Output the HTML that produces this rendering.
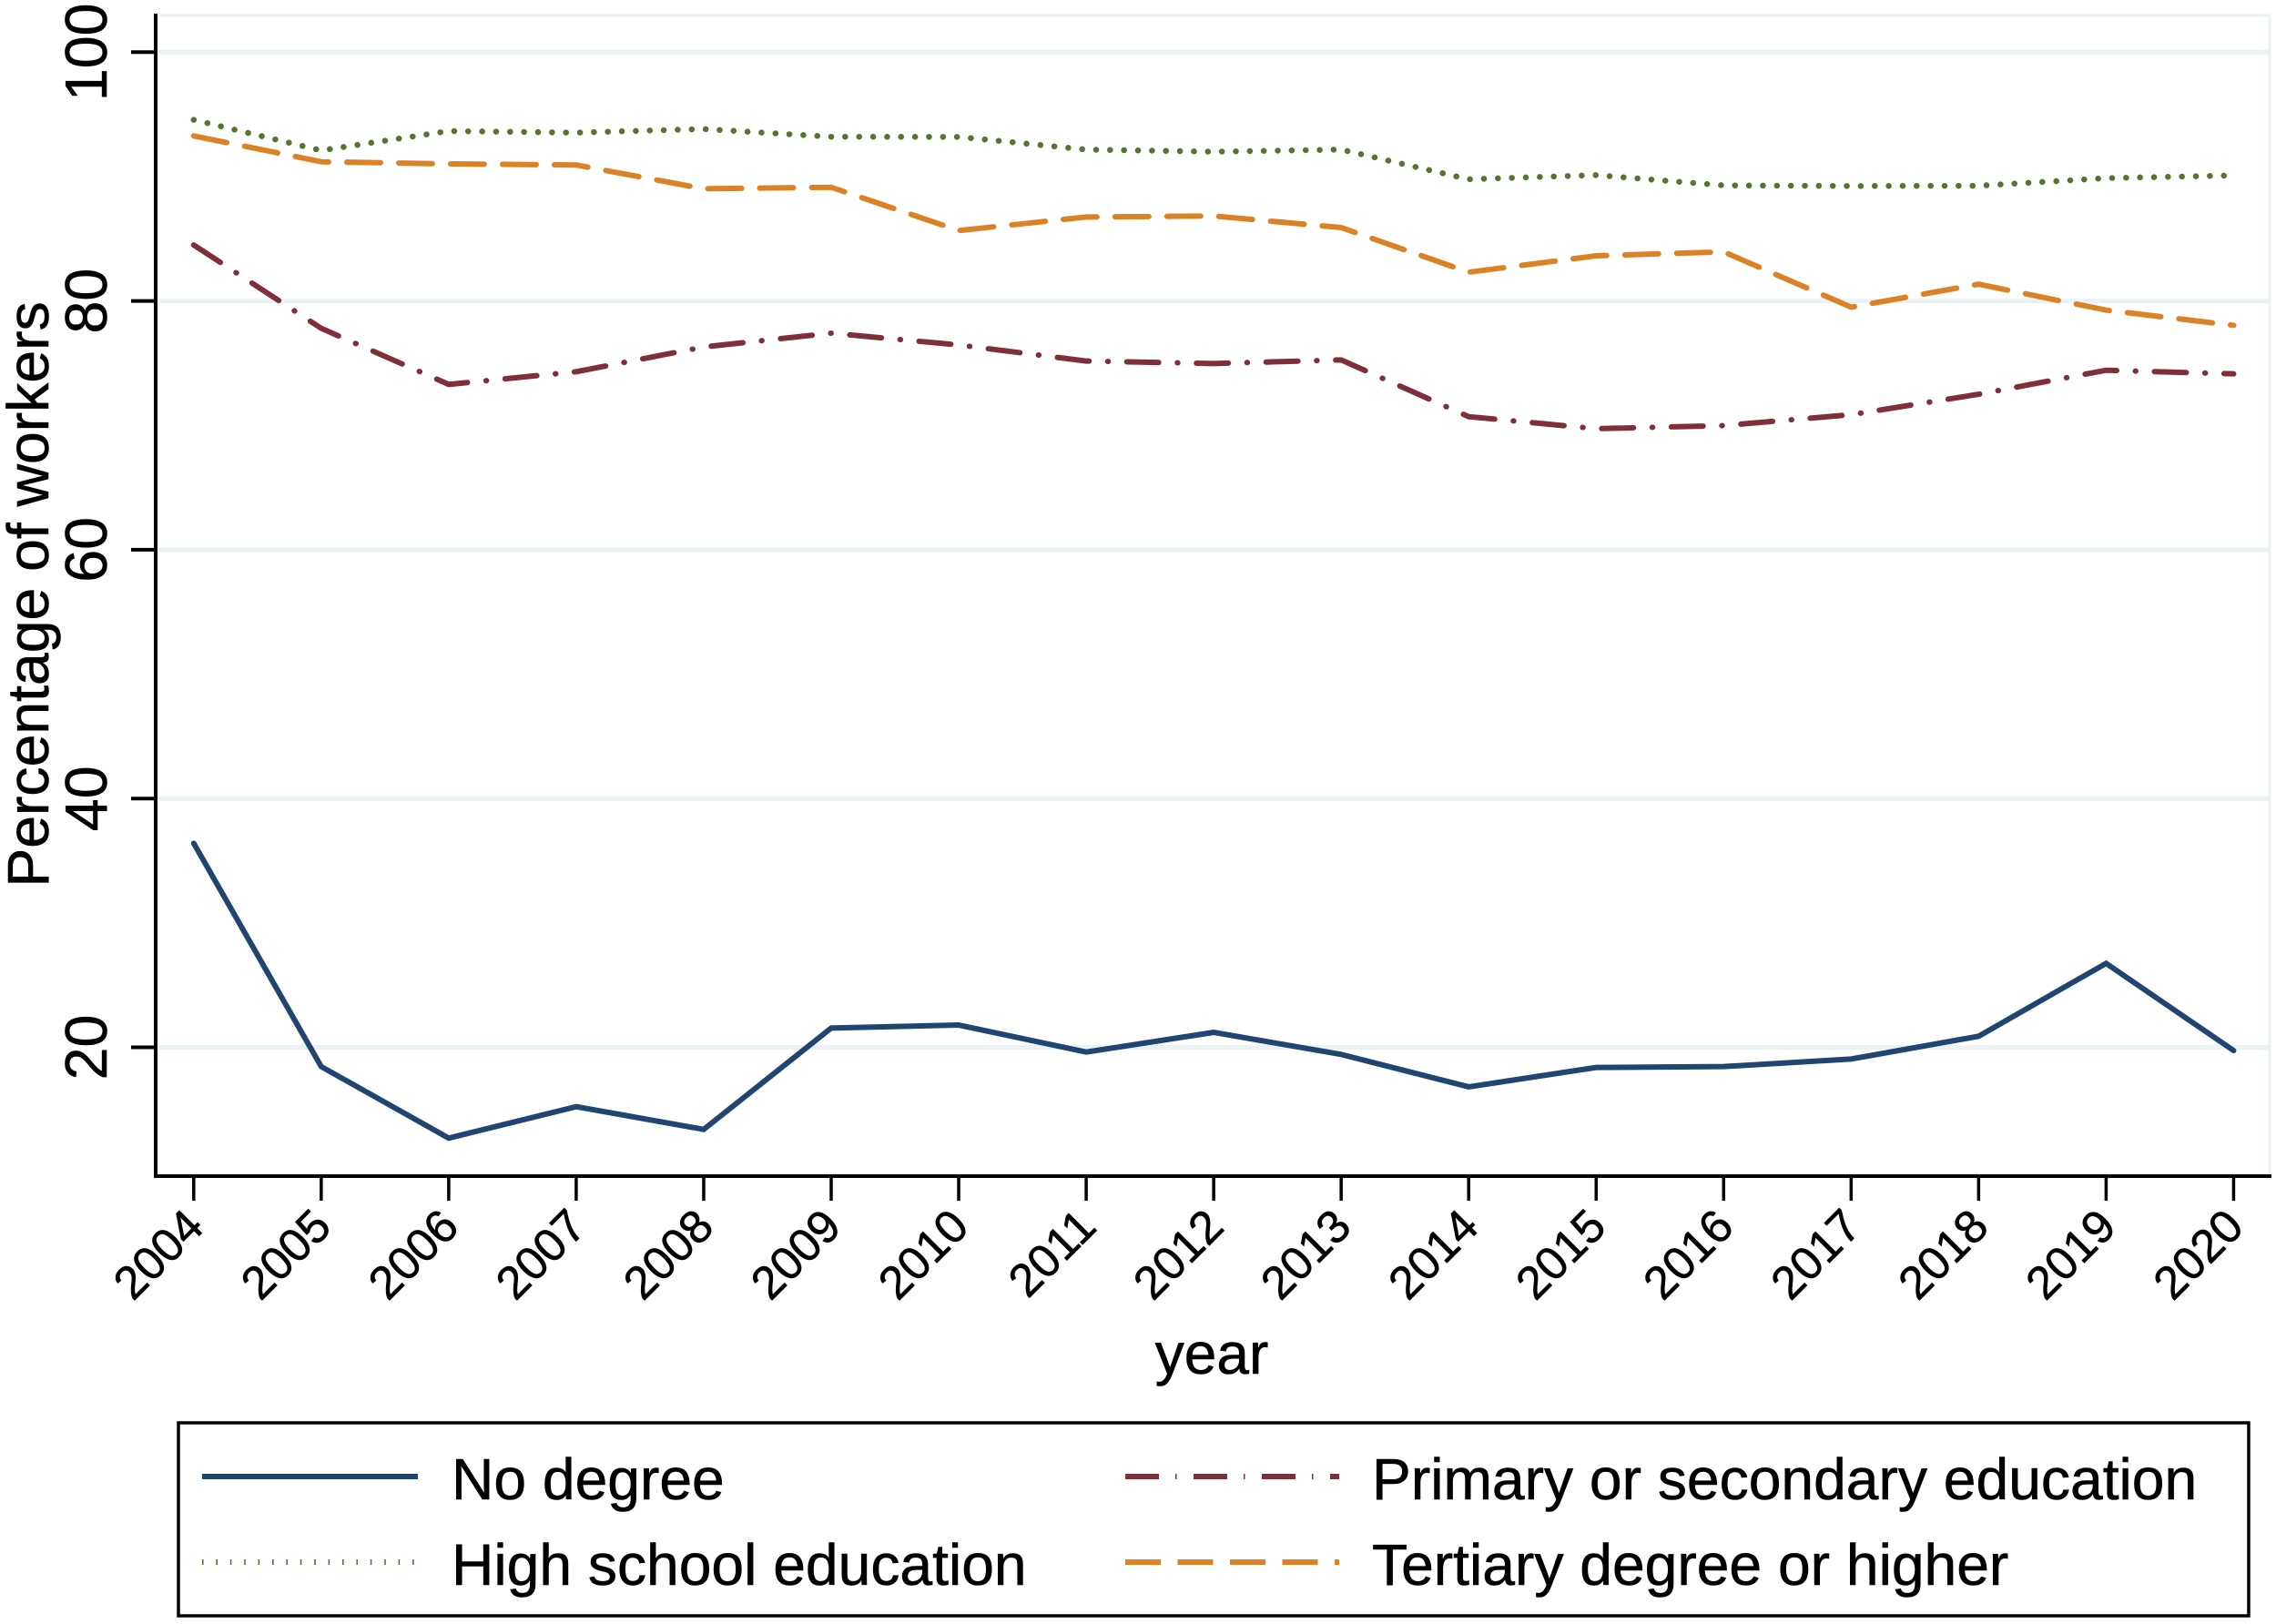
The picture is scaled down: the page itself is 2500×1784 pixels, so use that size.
<!DOCTYPE html>
<html lang="en">
<head>
<meta charset="utf-8">
<title>Percentage of workers by education</title>
<style>
html,body{margin:0;padding:0;background:#fff;width:2500px;height:1784px;overflow:hidden}
svg{display:block}
text{font-family:"Liberation Sans",Arial,sans-serif;fill:#000;stroke:#000;stroke-width:.6px}
</style>
</head>
<body>
<svg id="chart" xmlns="http://www.w3.org/2000/svg" width="2500" height="1784" viewBox="0 0 2500 1784">
  <rect x="0" y="0" width="2500" height="1784" fill="#ffffff"/>
  <g id="grid"></g>
  <g id="series"></g>
  <g id="axes"></g>
  <text font-size="64.3" text-anchor="middle" transform="translate(53 653) rotate(-90)">Percentage of workers</text>
  <text font-size="64" text-anchor="middle" x="1331" y="1509">year</text>
  <g>
    <rect x="196" y="1563" width="2274" height="212" fill="#ffffff" stroke="#000" stroke-width="3.5"/>
    <line x1="222" y1="1622" x2="459" y2="1622" stroke="#1f4570" stroke-width="6"/>
    <text font-size="64.2" x="496" y="1647">No degree</text>
    <line x1="222" y1="1716" x2="459" y2="1716" stroke="#55752f" stroke-width="6" stroke-dasharray="1.6 13.8"/>
    <text font-size="64.2" x="496" y="1741">High school education</text>
    <line x1="1236" y1="1622" x2="1471" y2="1622" stroke="#7f2f38" stroke-width="6" stroke-dasharray="37 18 1.5 18.5"/>
    <text font-size="64.2" x="1507" y="1647">Primary or secondary education</text>
    <line x1="1236" y1="1716" x2="1471" y2="1716" stroke="#dc8226" stroke-width="6" stroke-dasharray="39 18.5"/>
    <text font-size="64.2" x="1507" y="1741">Tertiary degree or higher</text>
  </g>
</svg>
<script>
const years = [2004,2005,2006,2007,2008,2009,2010,2011,2012,2013,2014,2015,2016,2017,2018,2019,2020];
const noDegree = [36.4,18.45,12.7,15.23,13.4,21.55,21.79,19.62,21.2,19.43,16.82,18.38,18.45,19.06,20.89,26.75,19.74];
const primarySecondary = [84.5,77.8,73.29,74.31,76.3,77.41,76.46,75.17,74.97,75.26,70.7,69.73,69.98,70.86,72.5,74.43,74.14];
const highSchool = [94.56,92.1,93.66,93.53,93.82,93.2,93.19,92.17,92.0,92.17,89.78,90.12,89.29,89.24,89.26,89.87,90.09];
const tertiary = [93.27,91.19,91.02,90.93,89.02,89.14,85.66,86.75,86.83,85.9,82.31,83.63,83.95,79.5,81.35,79.26,78.04];
const yTicks = [20,40,60,80,100];

const NS = 'http://www.w3.org/2000/svg';
function xScale(year){ return 212.8 + (year - 2004) * 140.04; }
function yScale(v){ return 57.3 + (100 - v) * 13.665; }
function make(parent, tag, attrs, txt){
  const el = document.createElementNS(NS, tag);
  for (const k in attrs) el.setAttribute(k, attrs[k]);
  if (txt !== undefined) el.textContent = txt;
  parent.appendChild(el);
  return el;
}

const grid = document.getElementById('grid');
const seriesG = document.getElementById('series');
const axes = document.getElementById('axes');

/* plot-region outline (pale) */
const plotTop = make(grid, 'line', {x1:175, y1:17, x2:2494, y2:17, stroke:'#eaf2f3', 'stroke-width':3});


const plotRight = make(grid, 'line', {x1:2493, y1:17, x2:2493, y2:1290, stroke:'#eaf2f3', 'stroke-width':3});



yTicks.forEach(function(t){
  const gl = make(grid, 'line', {x1:175, y1:yScale(t), x2:2493, y2:yScale(t), stroke:'#eaf2f3', 'stroke-width':5});
  
  
  const tk = make(axes, 'line', {x1:144, y1:yScale(t), x2:171, y2:yScale(t), stroke:'#000', 'stroke-width':4});
  
  
  const lb = make(axes, 'text', {'font-size':64.5, 'text-anchor':'middle', transform:'translate(117 ' + yScale(t) + ') rotate(-90)'}, String(t));
  
  
});

years.forEach(function(yr){
  const x = xScale(yr);
  const tk = make(axes, 'line', {x1:x, y1:1292, x2:x, y2:1319, stroke:'#000', 'stroke-width':3.5});
  
  
  const lb = make(axes, 'text', {'font-size':51, 'text-anchor':'end', transform:'translate(' + (x + 13.5) + ' 1350) rotate(-45)'}, String(yr));
  
  
});

const yAxisLine = make(axes, 'line', {x1:171, y1:15, x2:171, y2:1294, stroke:'#000', 'stroke-width':4});


const xAxisLine = make(axes, 'line', {x1:169, y1:1292, x2:2495, y2:1292, stroke:'#000', 'stroke-width':4});



function drawLine(values, name, color, width, dash, cap){
  const pts = values.map(function(v, i){ return xScale(years[i]).toFixed(2) + ',' + yScale(v).toFixed(2); }).join(' ');
  const attrs = {points:pts, fill:'none', stroke:color, 'stroke-width':width, 'stroke-linejoin':'miter', 'stroke-linecap':cap};
  if (dash) attrs['stroke-dasharray'] = dash;
  const pl = make(seriesG, 'polyline', attrs);
  
  
}
drawLine(noDegree, 'series-no-degree', '#1f4570', 6, '', 'round');
drawLine(primarySecondary, 'series-primary-secondary', '#7f2f38', 6, '35 20.5 0.5 20.5', 'round');
drawLine(highSchool, 'series-high-school', '#55752f', 6.5, '0.1 15.25', 'round');
drawLine(tertiary, 'series-tertiary', '#dc8226', 6, '37 20', 'round');
</script>
</body>
</html>
